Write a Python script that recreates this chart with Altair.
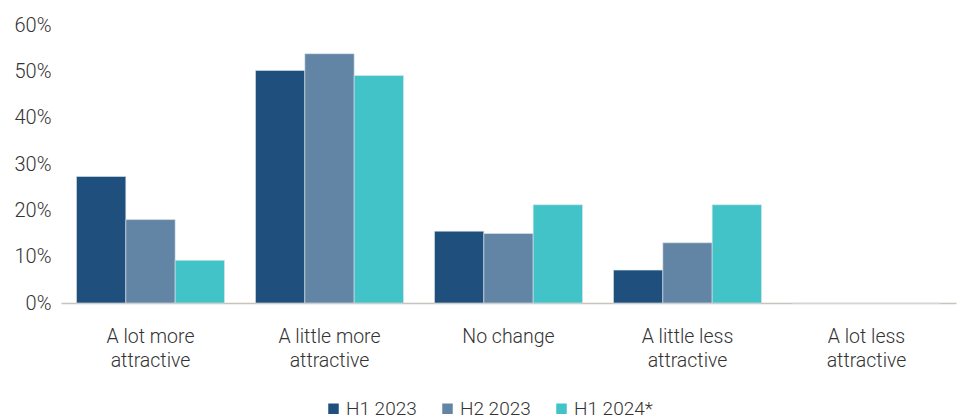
import altair as alt
import pandas as pd

categories = ["A lot more attractive", "A little more attractive", "No change",
              "A little less attractive", "A lot less attractive"]
series = ["H1 2023", "H2 2023", "H1 2024*"]
h1_2023 = [27.3, 50.2, 15.5, 7.1, 0]
h2_2023 = [18.0, 53.8, 15.0, 13.0, 0]
h1_2024 = [9.2, 49.1, 21.2, 21.2, 0]
colors = ["#1F4F7D", "#6285A6", "#41C3C8"]

rows = []
for s, vals in zip(series, [h1_2023, h2_2023, h1_2024]):
    for c, v in zip(categories, vals):
        rows.append({"category": c, "series": s, "value": v / 100})
df = pd.DataFrame(rows)

FONT = "Roboto"
W = 300
TXT = "#333333"

label_expr = ("indexof(datum.value, ' attractive') > 0 ? "
              "[substring(datum.value, 0, indexof(datum.value, ' attractive')), 'attractive'] : datum.value")

chart = alt.Chart(df).mark_bar(stroke="#dfe5ec", strokeWidth=0.6).encode(
    x=alt.X("category:N", sort=categories,
            scale=alt.Scale(paddingInner=0.173, paddingOuter=0.0865),
            axis=alt.Axis(title=None, labelAngle=0, labelExpr=label_expr,
                          labelFont=FONT, labelFontSize=19.5, labelFontWeight=W, labelColor=TXT,
                          labelLineHeight=24, labelPadding=24, ticks=False,
                          domainColor="#c8c4bc", domainWidth=1.5, labelBaseline="top")),
    xOffset=alt.XOffset("series:N", sort=series),
    y=alt.Y("value:Q", scale=alt.Scale(domain=[0, 0.6]),
            axis=alt.Axis(title=None, format=".0%", values=[0, 0.1, 0.2, 0.3, 0.4, 0.5, 0.6],
                          grid=False, domain=False, ticks=False,
                          labelFont=FONT, labelFontSize=20, labelFontWeight=W, labelColor=TXT,
                          labelPadding=10)),
    color=alt.Color("series:N", sort=series,
                    scale=alt.Scale(domain=series, range=colors),
                    legend=alt.Legend(title=None, orient="none", direction="horizontal",
                                      legendX=263, legendY=374,
                                      symbolType="square", symbolSize=110,
                                      symbolStrokeWidth=0,
                                      labelFont=FONT, labelFontSize=19, labelFontWeight=W,
                                      labelColor=TXT,
                                      labelOffset=3, columnPadding=21)),
).properties(
    width=895, height=278,
    autosize=alt.AutoSizeParams(type="none"),
    padding={"left": 61, "top": 25, "right": 6, "bottom": 116},
).configure_view(stroke=None)

chart.save("out.html", embed_options={"renderer": "svg", "actions": False})
